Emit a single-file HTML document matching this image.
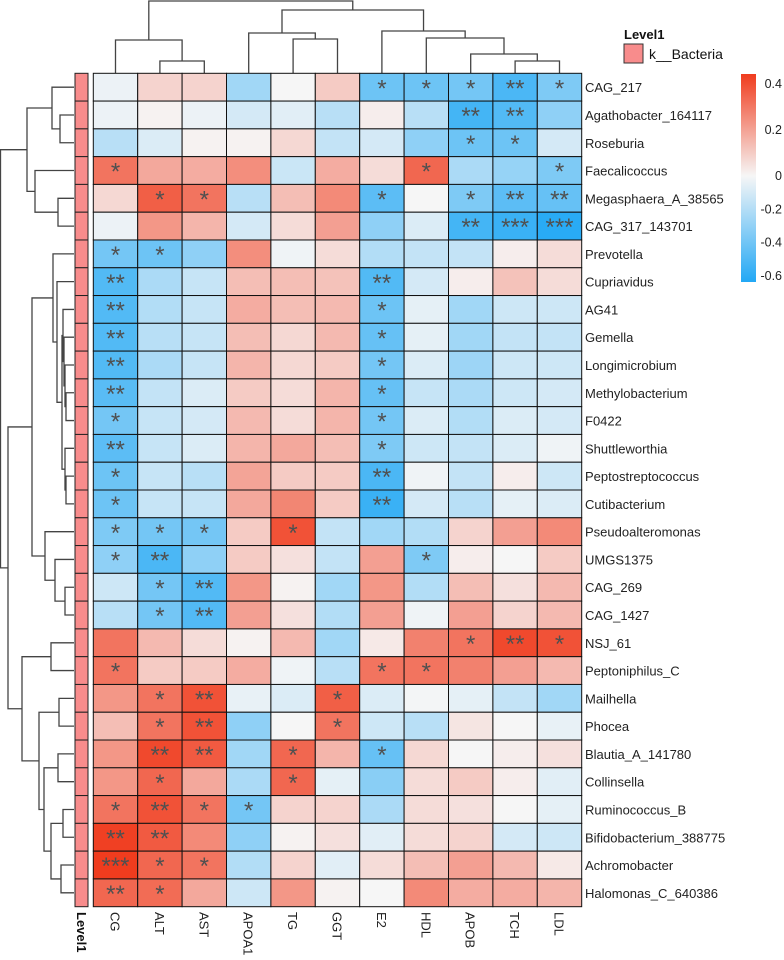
<!DOCTYPE html>
<html><head><meta charset="utf-8"><style>
body{margin:0;background:#fff;width:784px;height:955px;overflow:hidden}
svg text{font-family:"Liberation Sans",Arial,sans-serif}
</style></head><body>
<svg id="chart" width="784" height="955" xmlns="http://www.w3.org/2000/svg">
<defs><linearGradient id="cbar" x1="0" y1="0" x2="0" y2="1">
<stop offset="0" stop-color="#F03C1E"/><stop offset="0.49" stop-color="#F6F6F6"/><stop offset="1" stop-color="#22A8F5"/></linearGradient></defs>
<g id="dendro-top"></g>
<g id="dendro-left"></g>
<g id="annot"></g>
<g id="cells"></g>
<g id="stars"></g>
<g id="rowlabels"></g>
<g id="collabels"></g>
<text x="0" y="0" transform="translate(77,912) rotate(90)" font-size="13" font-weight="bold" fill="#111">Level1</text>
<g>
<text x="624" y="39" font-size="13" font-weight="bold" fill="#111">Level1</text>
<rect x="624" y="44" width="19" height="19" fill="#F88C8C" stroke="#333" stroke-width="1"/>
<text x="649" y="59" font-size="14" fill="#111">k__Bacteria</text>
</g>
<g>
<rect x="741" y="74" width="15" height="208" fill="url(#cbar)"/>
<g id="cbticks"></g>
</g>
</svg>
<script>
const rowNames=["CAG_217","Agathobacter_164117","Roseburia","Faecalicoccus","Megasphaera_A_38565","CAG_317_143701","Prevotella","Cupriavidus","AG41","Gemella","Longimicrobium","Methylobacterium","F0422","Shuttleworthia","Peptostreptococcus","Cutibacterium","Pseudoalteromonas","UMGS1375","CAG_269","CAG_1427","NSJ_61","Peptoniphilus_C","Mailhella","Phocea","Blautia_A_141780","Collinsella","Ruminococcus_B","Bifidobacterium_388775","Achromobacter","Halomonas_C_640386"];
const colNames=["CG","ALT","AST","APOA1","TG","GGT","E2","HDL","APOB","TCH","LDL"];
const values=[
[-0.03,0.08,0.08,-0.25,0.0,0.1,-0.4,-0.4,-0.38,-0.5,-0.35],
[-0.03,0.01,-0.03,-0.1,-0.06,-0.18,0.02,-0.18,-0.52,-0.48,-0.3],
[-0.18,-0.08,0.01,0.01,0.07,-0.15,-0.1,-0.3,-0.4,-0.4,-0.1],
[0.3,0.18,0.17,0.24,-0.13,0.17,0.06,0.33,-0.22,-0.28,-0.35],
[0.07,0.35,0.3,-0.18,0.13,0.25,-0.45,0.0,-0.35,-0.45,-0.42],
[-0.03,0.22,0.15,-0.1,0.06,0.2,-0.3,-0.08,-0.52,-0.55,-0.6],
[-0.38,-0.4,-0.3,0.24,-0.02,0.06,-0.2,-0.15,-0.15,0.02,0.06],
[-0.48,-0.22,-0.14,0.13,0.13,0.12,-0.48,-0.1,0.02,0.12,0.06],
[-0.48,-0.2,-0.14,0.17,0.13,0.14,-0.4,-0.05,-0.25,-0.12,-0.12],
[-0.48,-0.18,-0.14,0.13,0.07,0.14,-0.42,-0.05,-0.25,-0.15,-0.15],
[-0.48,-0.22,-0.14,0.15,0.07,0.1,-0.38,-0.08,-0.26,-0.12,-0.12],
[-0.46,-0.15,-0.08,0.1,0.06,0.15,-0.42,-0.14,-0.22,-0.12,-0.1],
[-0.38,-0.14,-0.1,0.14,0.06,0.15,-0.38,-0.08,-0.2,-0.08,-0.1],
[-0.45,-0.14,-0.08,0.15,0.18,0.13,-0.35,-0.12,-0.15,-0.08,-0.02],
[-0.4,-0.14,-0.18,0.19,0.1,0.1,-0.5,-0.02,-0.15,0.02,-0.12],
[-0.4,-0.14,-0.14,0.18,0.26,0.1,-0.55,-0.1,-0.18,-0.05,-0.08],
[-0.35,-0.38,-0.38,0.1,0.38,-0.15,-0.25,-0.2,0.08,0.2,0.25],
[-0.3,-0.5,-0.3,0.1,0.05,-0.15,0.2,-0.35,0.02,0.0,0.1],
[-0.12,-0.38,-0.48,0.22,0.01,-0.25,0.22,-0.2,0.13,0.05,0.14],
[-0.18,-0.38,-0.48,0.2,0.05,-0.2,0.2,-0.02,0.2,0.08,0.14],
[0.3,0.14,0.06,0.01,0.14,-0.25,0.03,0.27,0.3,0.4,0.38],
[0.3,0.1,0.1,0.17,-0.02,-0.18,0.3,0.3,0.27,0.2,0.14],
[0.22,0.3,0.38,-0.04,-0.08,0.35,-0.08,-0.01,-0.05,-0.15,-0.25],
[0.13,0.3,0.38,-0.3,0.0,0.3,-0.12,-0.18,0.04,0.0,-0.04],
[0.22,0.4,0.36,-0.25,0.33,0.15,-0.42,0.07,0.0,0.02,0.05],
[0.22,0.33,0.18,-0.22,0.33,-0.05,-0.32,0.06,0.1,0.02,-0.06],
[0.3,0.38,0.3,-0.38,0.08,0.08,-0.22,0.06,0.05,0.0,-0.05],
[0.42,0.36,0.25,-0.3,0.01,0.05,-0.06,0.06,0.08,-0.1,-0.12],
[0.43,0.33,0.3,-0.2,0.08,-0.06,0.06,0.13,0.2,0.14,0.03],
[0.33,0.32,0.18,-0.12,0.22,0.01,0.0,0.25,0.17,0.17,0.15]];
const stars=[
[0,0,0,0,0,0,1,1,1,2,1],[0,0,0,0,0,0,0,0,2,2,0],[0,0,0,0,0,0,0,0,1,1,0],[1,0,0,0,0,0,0,1,0,0,1],
[0,1,1,0,0,0,1,0,1,2,2],[0,0,0,0,0,0,0,0,2,3,3],[1,1,0,0,0,0,0,0,0,0,0],[2,0,0,0,0,0,2,0,0,0,0],
[2,0,0,0,0,0,1,0,0,0,0],[2,0,0,0,0,0,1,0,0,0,0],[2,0,0,0,0,0,1,0,0,0,0],[2,0,0,0,0,0,1,0,0,0,0],
[1,0,0,0,0,0,1,0,0,0,0],[2,0,0,0,0,0,1,0,0,0,0],[1,0,0,0,0,0,2,0,0,0,0],[1,0,0,0,0,0,2,0,0,0,0],
[1,1,1,0,1,0,0,0,0,0,0],[1,2,0,0,0,0,0,1,0,0,0],[0,1,2,0,0,0,0,0,0,0,0],[0,1,2,0,0,0,0,0,0,0,0],
[0,0,0,0,0,0,0,0,1,2,1],[1,0,0,0,0,0,1,1,0,0,0],[0,1,2,0,0,1,0,0,0,0,0],[0,1,2,0,0,1,0,0,0,0,0],
[0,2,2,0,1,0,1,0,0,0,0],[0,1,0,0,1,0,0,0,0,0,0],[1,2,1,1,0,0,0,0,0,0,0],[2,2,0,0,0,0,0,0,0,0,0],
[3,1,1,0,0,0,0,0,0,0,0],[2,1,0,0,0,0,0,0,0,0,0]];
const tickLabels=["0.4","0.2","0","-0.2","-0.4","-0.6"];
const tickVals=[0.4,0.2,0,-0.2,-0.4,-0.6];

const NS="http://www.w3.org/2000/svg";
const X0=93.3,CW=44.4,Y0=73.3,RH=27.78;
const xC=i=>X0+CW*i, yR=j=>Y0+RH*j;
function mk(tag,attrs,parent){const e=document.createElementNS(NS,tag);for(const k in attrs)e.setAttribute(k,attrs[k]);parent.appendChild(e);return e;}
function color(v){const W=[246,246,246];let T,t;
 if(v>=0){T=[240,60,30];t=Math.min(v/0.43,1);}else{T=[34,168,245];t=Math.min(-v/0.62,1);}
 const c=W.map((w,i)=>Math.round(w+(T[i]-w)*t));return `rgb(${c})`;}
const cells=document.getElementById('cells'),st=document.getElementById('stars');
const rl=document.getElementById('rowlabels'),cl=document.getElementById('collabels'),an=document.getElementById('annot');
values.forEach((row,j)=>{
 const a=mk('rect',{x:75,y:yR(j),width:13,height:RH,fill:'#F88C8C',stroke:'#222','stroke-width':1},an);
 
 
 row.forEach((v,i)=>{
  const r=mk('rect',{x:xC(i),y:yR(j),width:CW,height:RH,fill:color(v),stroke:'#111','stroke-width':1},cells);
  
  
  const n=stars[j][i];
  if(n>0){const t=mk('text',{x:xC(i)+CW/2,y:yR(j)+23,'text-anchor':'middle','font-size':24,fill:'#505050'},st);
   t.textContent='*'.repeat(n);
   
   }
 });
 const l=mk('text',{x:585,y:yR(j)+RH/2+5,'font-size':13,fill:'#222'},rl);
 l.textContent=rowNames[j];
 
 
});
colNames.forEach((c,i)=>{
 const t=mk('text',{transform:`translate(${xC(i)+CW/2-5},912) rotate(90)`,'font-size':13,fill:'#222'},cl);
 t.textContent=c;
 
 
});
const cbY=v=>v>=0?175-(v/0.4)*92:175+(-v/0.6)*100;
const cbt=document.getElementById('cbticks');
tickVals.forEach((v,k)=>{const t=mk('text',{x:782,y:cbY(v)+5,'font-size':12.5,fill:'#222','text-anchor':'end'},cbt);
 t.textContent=tickLabels[k];
 
 });
const colTree=[[0,[1,2,61],40],[[3,[4,5,39],33],[6,[7,[8,[9,10,61],54],38],31],10],1];
const rowTree=[[[0,[1,2,60],52],[3,[4,5,58],35],27],[[[6,[7,[[8,[9,[10,[11,12,66],65],64],63],[13,[14,15,66],65],62],57],53],[16,[17,[18,19,65],55],45],32],[[20,21,51],[[22,23,59],[[24,25,58],[[26,27,63],[28,29,61],51],44],39],22],8],0.5];
function draw(node,g,pos,leafEnd,orient){
 if(typeof node==='number')return{p:pos(node),h:leafEnd};
 const a=draw(node[0],g,pos,leafEnd,orient),b=draw(node[1],g,pos,leafEnd,orient),h=node[2];
 let d;
 if(orient==='top')d=`M${a.p},${a.h}V${h}H${b.p}V${b.h}`;else d=`M${a.h},${a.p}H${h}V${b.p}H${b.h}`;
 mk('path',{d:d,fill:'none',stroke:'#444','stroke-width':1.3},g);
 return{p:(a.p+b.p)/2,h:h};
}
draw(colTree,document.getElementById('dendro-top'),i=>xC(i)+CW/2,73,'top');
draw(rowTree,document.getElementById('dendro-left'),j=>yR(j)+RH/2,74,'left');
</script>
</body></html>
